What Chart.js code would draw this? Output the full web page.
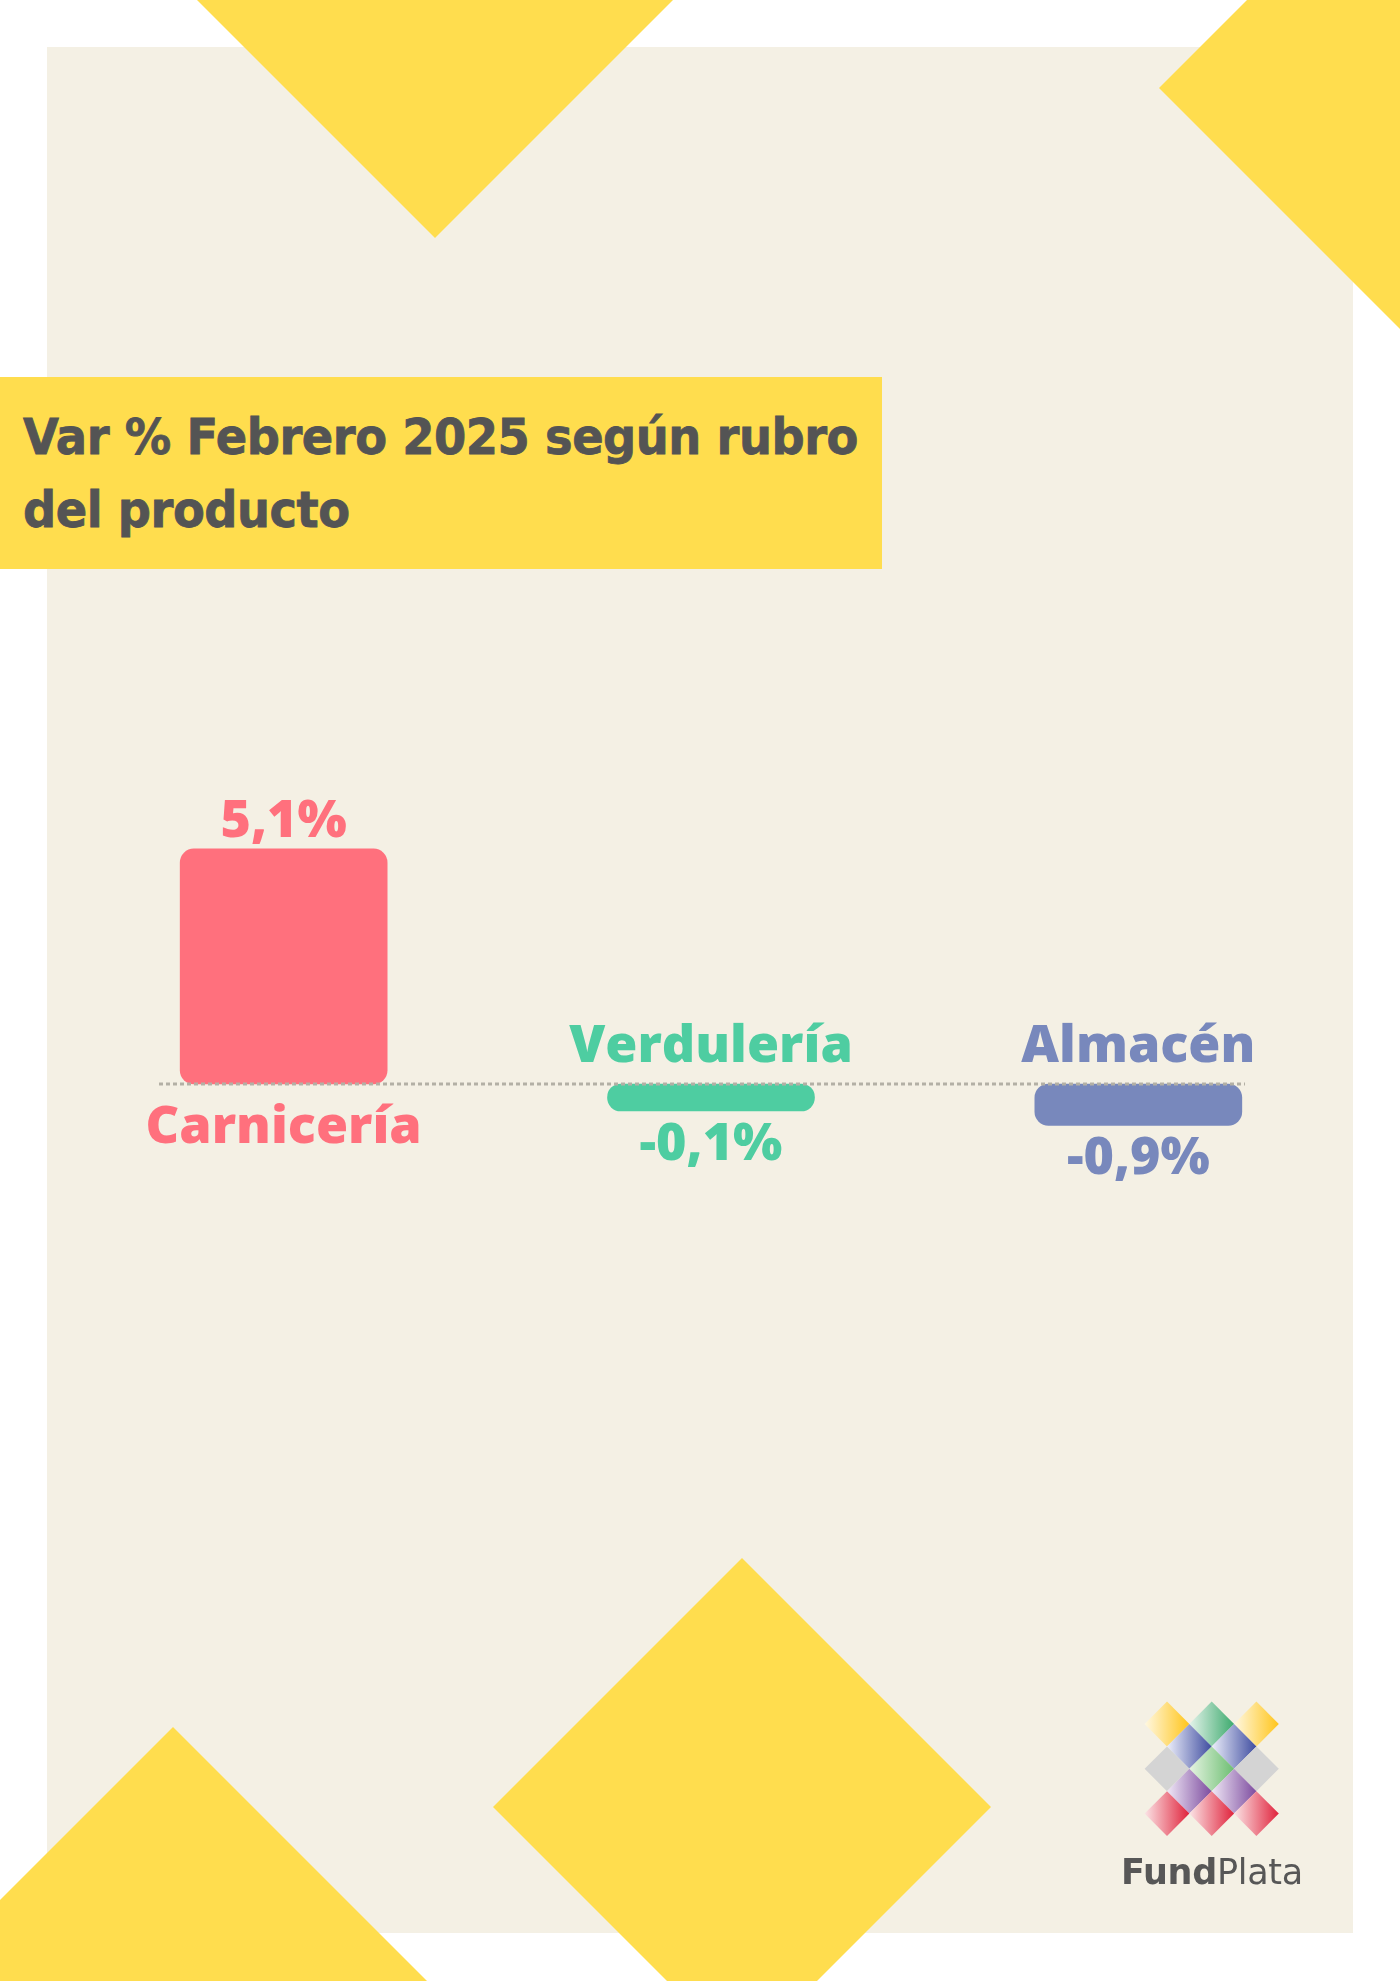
<!DOCTYPE html>
<html lang="es">
<head>
<meta charset="utf-8">
<title>Var % Febrero 2025 según rubro del producto</title>
<script src="https://cdn.jsdelivr.net/npm/chart.js@4.4.1/dist/chart.umd.min.js"></script>
<style>
  html, body { margin: 0; padding: 0; background: #ffffff; }
  #page { position: relative; width: 1400px; height: 1981px; overflow: hidden; }
  #chart { position: absolute; left: 0; top: 0; }
  #title {
    position: absolute; left: 0; top: 377px; width: 882px; height: 192px;
    background: #FFDD4E; z-index: 2;
  }
  #title div {
    position: absolute; left: 23px; top: 24px; white-space: nowrap;
    font-family: "DejaVu Sans", sans-serif; font-weight: 700; font-size: 49px; line-height: 73px;
    letter-spacing: -0.5px; color: #545454; transform-origin: left top;
    -webkit-text-stroke: 0.8px #545454;
  }
  #brand {
    position: absolute; left: 1062px; width: 300px; top: 1855px; z-index: 2; white-space: nowrap;
    text-align: center; letter-spacing: -0.3px;
    font-family: "DejaVu Sans", sans-serif; font-size: 35px; line-height: 34px; color: #575757;
  }
  #brand b { font-weight: 700; }
</style>
</head>
<body>
<div id="page">
  <canvas id="chart" width="1400" height="1981"></canvas>
  <div id="title"><div><span id="line1">Var % Febrero 2025 según rubro</span><br>del producto</div></div>
  <div id="brand"><b>Fund</b>Plata</div>
</div>
<script>
// Chart data
const categories = ['Carnicería', 'Verdulería', 'Almacén'];
const values = [5.1, -0.1, -0.9];
const valueLabels = ['5,1%', '-0,1%', '-0,9%'];
const barColors = ['#FF707D', '#4ECDA1', '#7888BC'];

const YELLOW = '#FFDD4E';
const LABEL_FONT = '800 52px "Open Sans", sans-serif';

// squeeze the title so its first line spans the same width as the poster's
const line1 = document.getElementById('line1');
const titleScale = 835 / line1.getBoundingClientRect().width;
line1.parentNode.style.transform = `scaleX(${titleScale})`;

// Poster background: white page, beige sheet, yellow shapes, logo marks
const backgroundPlugin = {
    id: 'poster',
    beforeDraw(chart) {
        const ctx = chart.ctx;
        ctx.save();
        ctx.fillStyle = '#ffffff';
        ctx.fillRect(0, 0, 1400, 1981);
        ctx.fillStyle = '#F4F0E4';
        ctx.fillRect(47, 47, 1306, 1886);

        ctx.fillStyle = YELLOW;
        const poly = pts => {
            ctx.beginPath();
            pts.forEach((p, i) => i ? ctx.lineTo(p[0], p[1]) : ctx.moveTo(p[0], p[1]));
            ctx.closePath();
            ctx.fill();
        };
        // top triangle
        poly([[197, 0], [673, 0], [435, 238]]);
        // top-right diamond (cut by page edge)
        poly([[1159, 88], [1400, -153], [1641, 88], [1400, 329]]);
        // bottom-left
        poly([[173, 1727], [427, 1981], [0, 1981], [0, 1900]]);
        // bottom center diamond
        poly([[742, 1558], [991, 1807], [742, 2056], [493, 1807]]);

        // logo marks
        const r = 22.4, s = 44.7, x0 = 1167, y0 = 1724;
        const diamond = (cx, cy, light, dark) => {
            const g = ctx.createLinearGradient(cx - r, 0, cx + r, 0);
            g.addColorStop(0, light);
            g.addColorStop(1, dark);
            ctx.fillStyle = g;
            ctx.beginPath();
            ctx.moveTo(cx, cy - r);
            ctx.lineTo(cx + r, cy);
            ctx.lineTo(cx, cy + r);
            ctx.lineTo(cx - r, cy);
            ctx.closePath();
            ctx.fill();
        };
        const rows = [
            [['#FFF8E2', '#FFC51A'], ['#E4F3EA', '#3DAA6E'], ['#FFF8E2', '#FFC51A']],
            [['#ECEEFA', '#3F4DA0'], ['#ECEEFA', '#3F4DA0']],
            [['#D4D4D4', '#D4D4D4'], ['#E6F4E2', '#6DBE72'], ['#D4D4D4', '#D4D4D4']],
            [['#F0E8F6', '#7D4C9F'], ['#F0E8F6', '#7D4C9F']],
            [['#FBE4E6', '#E0233C'], ['#FBE4E6', '#E0233C'], ['#FBE4E6', '#E0233C']]
        ];
        rows.forEach((row, ri) => {
            const off = ri % 2 ? s / 2 : 0;
            row.forEach((c, ci) => diamond(x0 + off + ci * s, y0 + ri * r, c[0], c[1]));
        });
        ctx.restore();
    }
};

// Zero line and the labels around each bar
const labelsPlugin = {
    id: 'barLabels',
    afterDatasetsDraw(chart) {
        const ctx = chart.ctx;
        const zero = chart.scales.y.getPixelForValue(0);
        ctx.save();
        ctx.strokeStyle = '#B3B0A5';
        ctx.lineWidth = 3;
        ctx.setLineDash([4, 3]);
        ctx.beginPath();
        ctx.moveTo(159, zero);
        ctx.lineTo(1245, zero);
        ctx.stroke();
        ctx.setLineDash([]);

        ctx.font = LABEL_FONT;
        ctx.textAlign = 'center';
        ctx.textBaseline = 'alphabetic';
        chart.getDatasetMeta(0).data.forEach((bar, i) => {
            ctx.fillStyle = barColors[i];
            if (values[i] >= 0) {
                ctx.fillText(valueLabels[i], bar.x, bar.y - 12);
                ctx.fillText(categories[i], bar.x, zero + 59);
            } else {
                ctx.fillText(categories[i], bar.x, zero - 22);
                ctx.fillText(valueLabels[i], bar.x, bar.y + 49);
            }
        });
        ctx.restore();
    }
};

new Chart(document.getElementById('chart'), {
    type: 'bar',
    data: {
        labels: categories,
        datasets: [{
            data: values,
            backgroundColor: barColors,
            borderRadius: 14,
            borderSkipped: false,
            barThickness: 207,
            minBarLength: 27
        }]
    },
    options: {
        responsive: false,
        animation: false,
        devicePixelRatio: 1,
        layout: { padding: { top: 623, bottom: 436, left: 70, right: 48 } },
        plugins: {
            legend: { display: false },
            tooltip: { enabled: false }
        },
        scales: {
            x: { display: false },
            y: { display: false, min: -10, max: 10 }
        }
    },
    plugins: [backgroundPlugin, labelsPlugin]
});
</script>
</body>
</html>
